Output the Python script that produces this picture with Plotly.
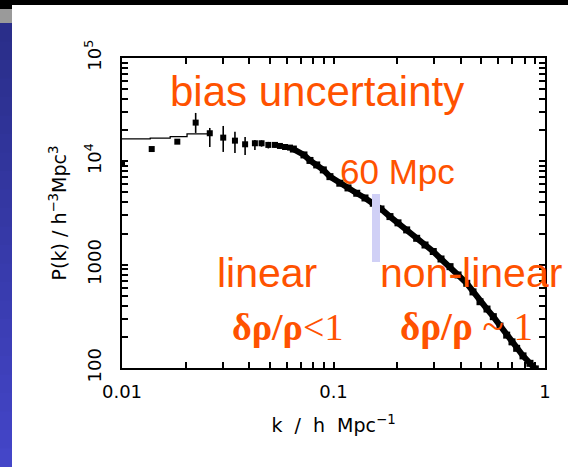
import plotly.graph_objects as go

# ---------------- data ----------------
# sparse low-k band powers with error bars
k_low = [0.0100, 0.01382, 0.01826, 0.0223, 0.0260, 0.0301, 0.0342, 0.0382, 0.0425,
         0.0457, 0.0492, 0.0529, 0.0558, 0.0590, 0.0623]
p_low = [9440, 13150, 15500, 23700, 18700, 16960, 15860, 14620, 14960,
         14960, 14420, 14420, 14090, 13770, 13580]
err_up = [0, 0, 0, 5700, 2340, 5040, 3420, 2580, 1140, 1000, 1000, 900, 900, 800, 800]
err_dn = [0, 0, 0, 4870, 4930, 4630, 3810, 3090, 2080, 1100, 1100, 900, 900, 800, 800]

# dense high-k band powers
k_high = [0.0646, 0.0725, 0.0774, 0.0833, 0.0895, 0.0962, 0.1071, 0.1171, 0.1288,
          0.1409, 0.1542, 0.1677, 0.1849, 0.2018, 0.2218, 0.2473, 0.2708, 0.2963,
          0.3223, 0.3556, 0.3881, 0.4266, 0.4566, 0.4928, 0.5318, 0.5696, 0.6124,
          0.659, 0.698, 0.7345, 0.787, 0.849, 0.90]
p_high = [13150, 11530, 10200, 9230, 8260, 7110, 6140, 5530, 4910,
          4420, 3930, 3460, 2920, 2540, 2170, 1800, 1550, 1340,
          1135, 957, 795, 660, 545, 438, 372, 314, 255,
          208, 179, 155, 131, 111, 98]

# model step line at low k
k_model = [0.0100, 0.0136, 0.0169, 0.0203, 0.0261]
p_model = [16470, 16740, 17340, 18410, 18410]

x_tickvals = [0.01, 0.02, 0.03, 0.04, 0.05, 0.06, 0.07, 0.08, 0.09,
              0.1, 0.2, 0.3, 0.4, 0.5, 0.6, 0.7, 0.8, 0.9, 1]
x_ticktext = ["0.01", "", "", "", "", "", "", "", "",
              "0.1", "", "", "", "", "", "", "", "", "1"]
y_tickvals = [100, 200, 300, 400, 500, 600, 700, 800, 900,
              1000, 2000, 3000, 4000, 5000, 6000, 7000, 8000, 9000,
              1e4, 2e4, 3e4, 4e4, 5e4, 6e4, 7e4, 8e4, 9e4, 1e5]
y_ticktext = ["100", "", "", "", "", "", "", "", "",
              "1000", "", "", "", "", "", "", "", "",
              "10<sup>4</sup>", "", "", "", "", "", "", "", "", "10<sup>5</sup>"]

ORANGE = "#ff5200"
W, H = 568, 467
L, R, T, B = 122, 23, 58, 99
PW, PH = W - L - R, H - T - B


def px(x):
    return (x - L) / PW


def py(y):
    return (H - B - y) / PH


fig = go.Figure()

fig.add_trace(go.Scatter(
    x=k_model, y=p_model, mode="lines", line=dict(color="black", width=1.3, shape="hv"),
    hoverinfo="skip", showlegend=False))

fig.add_trace(go.Scatter(
    x=k_low, y=p_low, mode="markers",
    marker=dict(symbol="square", size=6, color="black"),
    error_y=dict(type="data", symmetric=False, array=err_up, arrayminus=err_dn,
                 color="black", thickness=1.6, width=0),
    showlegend=False))

fig.add_trace(go.Scatter(
    x=k_high, y=p_high, mode="lines+markers",
    line=dict(color="black", width=6),
    marker=dict(symbol="square", size=7, color="black"),
    showlegend=False))

shapes = []
# left blue gradient strip
n = 24
for i in range(n):
    t = i / (n - 1)
    r = int(0x2a + (0x44 - 0x2a) * t)
    g = int(0x2e + (0x46 - 0x2e) * t)
    b = int(0x8a + (0xc8 - 0x8a) * t)
    y0 = 23 + (H - 23) * i / n
    y1 = 23 + (H - 23) * (i + 1) / n + 1
    shapes.append(dict(type="rect", xref="paper", yref="paper",
                       x0=px(0), x1=px(12), y0=py(y1), y1=py(y0),
                       fillcolor=f"rgb({r},{g},{b})", line=dict(width=0), layer="above"))
# grey block
shapes.append(dict(type="rect", xref="paper", yref="paper", x0=px(0), x1=px(12),
                   y0=py(23), y1=py(9), fillcolor="#9a9a9a", line=dict(width=0)))
# top black bar
shapes.append(dict(type="rect", xref="paper", yref="paper", x0=px(0), x1=px(W),
                   y0=py(5), y1=py(0), fillcolor="black", line=dict(width=0)))
shapes.append(dict(type="rect", xref="paper", yref="paper", x0=px(0), x1=px(12),
                   y0=py(9), y1=py(0), fillcolor="black", line=dict(width=0)))
# lavender 60 Mpc marker bar
shapes.append(dict(type="rect", xref="paper", yref="paper", x0=px(372), x1=px(380),
                   y0=py(262), y1=py(194), fillcolor="#d0d0f6", line=dict(width=0),
                   layer="above"))

sans = "Liberation Sans, Arial, sans-serif"
serif = "Liberation Serif, Times New Roman, serif"
annotations = [
    dict(text="bias uncertainty", x=px(317), y=py(91), font=dict(size=42, color=ORANGE, family=sans)),
    dict(text="60 Mpc", x=px(397), y=py(171), font=dict(size=35, color=ORANGE, family=sans)),
    dict(text="linear", x=px(267), y=py(273), font=dict(size=41, color=ORANGE, family=sans)),
    dict(text="non-linear", x=px(378), y=py(273), xanchor="left",
         font=dict(size=41, color=ORANGE, family=sans)),
    dict(text="<b>δρ/ρ</b><1", x=px(287), y=py(327), font=dict(size=38, color=ORANGE, family=serif)),
    dict(text="<b>δρ/ρ</b> ~ 1", x=px(466), y=py(327), font=dict(size=39, color=ORANGE, family=serif)),
]
for a in annotations:
    a.setdefault("xanchor", "center")
    a.update(xref="paper", yref="paper", yanchor="middle", showarrow=False)

tickfont = dict(family="DejaVu Sans, sans-serif", size=18, color="black")
axis_common = dict(
    type="log", showgrid=False, zeroline=False, showline=True, linecolor="black",
    linewidth=2, mirror="ticks", ticks="inside", ticklen=6, tickwidth=1.6,
    tickcolor="black", tickfont=tickfont,
)

fig.update_layout(
    width=W, height=H, margin=dict(l=L, r=R, t=T, b=B),
    paper_bgcolor="white", plot_bgcolor="white",
    shapes=shapes, annotations=annotations, showlegend=False,
    xaxis=dict(axis_common, range=[-2, 0], tickmode="array", tickvals=x_tickvals,
               ticktext=x_ticktext, ticklabelstandoff=6,
               title=dict(text="k\u00a0\u00a0/\u00a0\u00a0h\u00a0\u00a0Mpc<sup>−1</sup>",
                          font=dict(family="DejaVu Sans, sans-serif", size=19, color="black"),
                          standoff=18)),
    yaxis=dict(axis_common, range=[2, 5], tickmode="array", tickvals=y_tickvals,
               ticktext=y_ticktext, tickangle=-90, ticklabelstandoff=12,
               title=dict(text="P(k) / h<sup>−3</sup>Mpc<sup>3</sup>",
                          font=dict(family="DejaVu Sans, sans-serif", size=19, color="black"),
                          standoff=10)),
)

fig.write_html("out.html")
